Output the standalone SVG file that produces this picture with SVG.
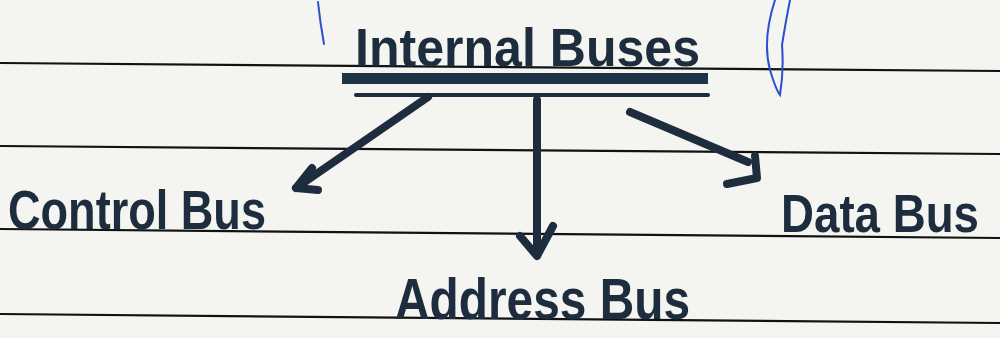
<svg xmlns="http://www.w3.org/2000/svg" width="1000" height="338" viewBox="0 0 1000 338">
<style>
.rule{stroke:#111;stroke-width:2.2;fill:none}
.ink{stroke:#1d2d3e;fill:none;stroke-linecap:round;stroke-linejoin:round}
.lbl{font-family:"Liberation Sans","DejaVu Sans",sans-serif;font-weight:bold;fill:#1d2d3e}
.pen{stroke:#2a4fd0;fill:none;stroke-width:2;stroke-linecap:round}
</style>
<rect width="1000" height="338" fill="#f4f4f1"/>
<g id="paper">
<path class="rule" d="M0 63 L1000 71"/>
<path class="rule" d="M0 146 L1000 154"/>
<path class="rule" d="M0 229 L1000 238"/>
<path class="rule" d="M0 314 L1000 323"/>
<path class="pen" d="M318 2 Q320 22 324 44"/>
<path class="pen" d="M775 0 Q762 40 770 70 Q776 90 780 95 Q784 70 782 45 Q786 20 790 0"/>
</g>
<g id="title">
<text class="lbl" x="355" y="66" font-size="54" textLength="345" lengthAdjust="spacingAndGlyphs">Internal Buses</text>
<rect x="342" y="73" width="366" height="11" fill="#1f3347"/>
<path class="ink" d="M356 95 L708 95" stroke-width="4"/>
</g>
<g id="control">
<text class="lbl" x="8" y="229" font-size="56" textLength="258" lengthAdjust="spacingAndGlyphs">Control Bus</text>
</g>
<g id="address">
<text class="lbl" x="395" y="319" font-size="58" textLength="295" lengthAdjust="spacingAndGlyphs">Address Bus</text>
</g>
<g id="data">
<text class="lbl" transform="translate(781,232) scale(1,1.12)" x="0" y="0" font-size="48" textLength="198" lengthAdjust="spacingAndGlyphs">Data Bus</text>
</g>
<g id="connectors">
<path class="ink" stroke-width="8" d="M428 97 L296 188"/>
<path class="ink" stroke-width="8" d="M312 168 L296 188 L318 190"/>
<path class="ink" stroke-width="8" d="M537 100 L537 255"/>
<path class="ink" stroke-width="8" d="M520 236 L537 256 L553 226"/>
<path class="ink" stroke-width="8" d="M630 112 L748 162"/>
<path class="ink" stroke-width="8" d="M755 156 L757 178 L727 184"/>
</g>
</svg>
